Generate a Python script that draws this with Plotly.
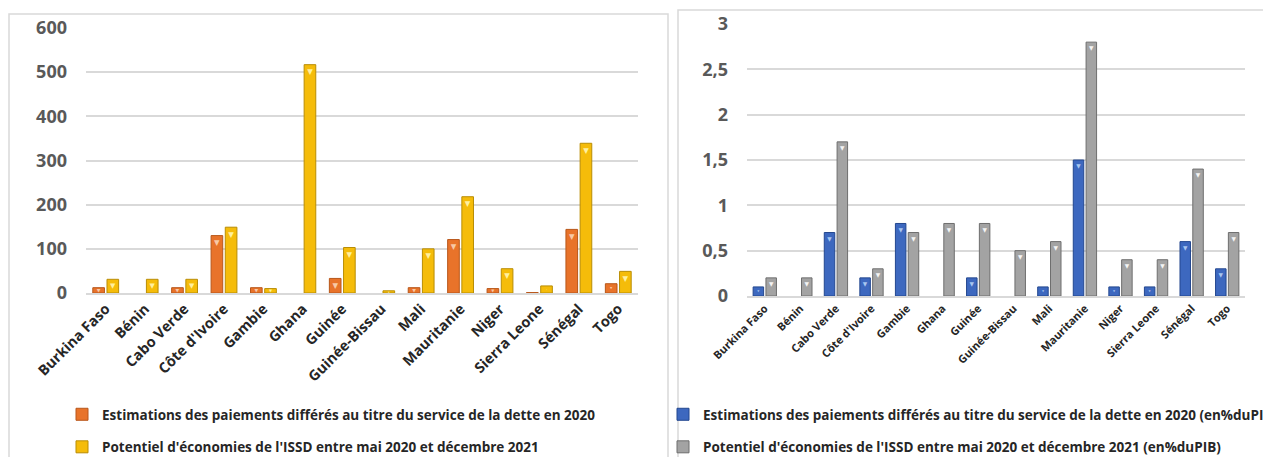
import plotly.graph_objects as go

# Pays de l'ISSD (Afrique de l'Ouest)
countries = ["Burkina Faso", "Bénin", "Cabo Verde", "Côte d'Ivoire", "Gambie", "Ghana",
             "Guinée", "Guinée-Bissau", "Mali", "Mauritanie", "Niger", "Sierra Leone",
             "Sénégal", "Togo"]

# Montants (millions USD)
deferred_usd = [12, 0, 12, 130, 12, 0, 33, 0, 12, 121, 10, 1, 144, 21]
savings_usd = [31, 31, 31, 149, 10, 517, 103, 5, 100, 218, 55, 16, 339, 49]

# En % du PIB
deferred_gdp = [0.1, 0, 0.7, 0.2, 0.8, 0, 0.2, 0, 0.1, 1.5, 0.1, 0.1, 0.6, 0.3]
savings_gdp = [0.2, 0.2, 1.7, 0.3, 0.7, 0.8, 0.8, 0.5, 0.6, 2.8, 0.4, 0.4, 1.4, 0.7]

left_ticks = [0, 100, 200, 300, 400, 500, 600]
right_ticks = [0, 0.5, 1, 1.5, 2, 2.5, 3]

name_deferred = "Estimations des paiements différés au titre du service de la dette en 2020"
name_savings = "Potentiel d'économies de l'ISSD entre mai 2020 et décembre 2021"
name_deferred_gdp = name_deferred + " (en%duPIB)"
name_savings_gdp = name_savings + " (en%duPIB)"

W, H = 1263, 457
FONT = "Open Sans"


def px_x(v):
    return v / W


def px_y(v):
    return 1 - v / H


def bar(x, y, name, fill, edge, tip, xaxis, yaxis, legend, group):
    return go.Bar(
        x=x, y=y, name=name,
        marker=dict(color=fill, line=dict(color=edge, width=[1 if v > 0 else 0 for v in y])),
        text=["▼" if v > 0 else "" for v in y],
        textposition="inside", insidetextanchor="end", textangle=0,
        textfont=dict(color=tip, size=9, family="DejaVu Sans"),
        xaxis=xaxis, yaxis=yaxis, legend=legend, legendgroup=group,
        hovertemplate="%{x}: %{y}<extra></extra>",
    )


fig = go.Figure()
fig.add_trace(bar(countries, deferred_usd, name_deferred, "#E8732A", "#B8571A", "#F8C9A6", "x", "y", "legend", "a"))
fig.add_trace(bar(countries, savings_usd, name_savings, "#F5BC0A", "#B98D05", "#FFF0A0", "x", "y", "legend", "b"))
fig.add_trace(bar(countries, deferred_gdp, name_deferred_gdp, "#3D68BF", "#23478F", "#A9C6F0", "x2", "y2", "legend2", "c"))
fig.add_trace(bar(countries, savings_gdp, name_savings_gdp, "#A3A3A3", "#6E6E6E", "#F4F4F4", "x2", "y2", "legend2", "d"))

tick_font = dict(family=FONT, size=18, color="#595959", weight="bold")
cat_font_left = dict(family=FONT, size=14.5, color="#262626", weight="bold")
cat_font_right = dict(family=FONT, size=11, color="#262626", weight="bold")
grid = "#D9D9D9"

axis_common = dict(showgrid=False, showline=True, linecolor=grid, linewidth=1.5,
                   ticks="", tickangle=-45, fixedrange=True)
yaxis_common = dict(showgrid=True, gridcolor=grid, gridwidth=1.5, zeroline=False,
                    showline=False, ticks="", ticklabelstandoff=18, fixedrange=True,
                    tickfont=tick_font)

legend_common = dict(orientation="v", xanchor="left", yanchor="top",
                     font=dict(family=FONT, size=13.5, color="#262626", weight="bold"),
                     tracegroupgap=12, bgcolor="rgba(0,0,0,0)", itemwidth=30)

fig.update_layout(
    width=W, height=H,
    margin=dict(l=0, r=0, t=0, b=0, autoexpand=False),
    paper_bgcolor="white", plot_bgcolor="white",
    separators=", ",
    barmode="group", bargap=0.28, bargroupgap=0.18,
    xaxis=dict(domain=[px_x(86), px_x(638)], anchor="y", tickfont=cat_font_left, **axis_common),
    yaxis=dict(domain=[px_y(293), px_y(28)], anchor="x", range=[0, 600],
               tickvals=left_ticks, **yaxis_common),
    xaxis2=dict(domain=[px_x(747), px_x(1245)], anchor="y2", tickfont=cat_font_right, **axis_common),
    yaxis2=dict(domain=[px_y(296), px_y(24)], anchor="x2", range=[0, 3],
                tickvals=right_ticks, **yaxis_common),
    legend=dict(x=px_x(62), y=px_y(399), **legend_common),
    legend2=dict(x=px_x(663), y=px_y(399), **legend_common),
    shapes=[
        dict(type="rect", xref="paper", yref="paper",
             x0=px_x(9), x1=px_x(668), y0=-0.05, y1=px_y(14),
             line=dict(color=grid, width=1.5), fillcolor="rgba(0,0,0,0)", layer="below"),
        dict(type="rect", xref="paper", yref="paper",
             x0=px_x(678), x1=1.05, y0=-0.05, y1=px_y(10),
             line=dict(color=grid, width=1.5), fillcolor="rgba(0,0,0,0)", layer="below"),
    ],
)

fig.write_html("out.html")
